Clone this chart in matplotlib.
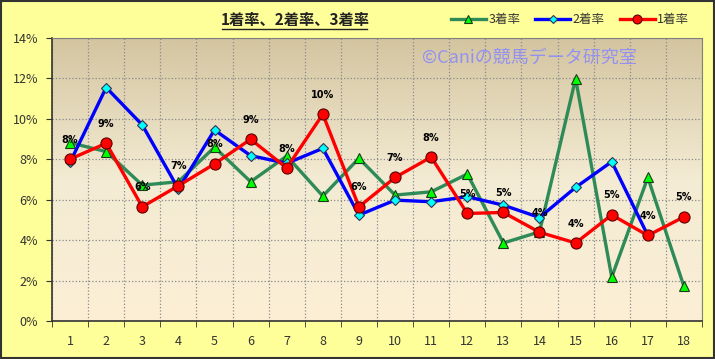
import numpy as np
import matplotlib.pyplot as plt
from matplotlib.colors import LinearSegmentedColormap
from matplotlib.ticker import FuncFormatter, MultipleLocator

plt.rcParams['font.family'] = ['Noto Sans CJK JP', 'DejaVu Sans']

cats = list(range(1, 19))
win1 = [8.01, 8.79, 5.65, 6.69, 7.77, 8.99, 7.57, 10.23, 5.65, 7.10, 8.11, 5.32, 5.37, 4.39, 3.86, 5.25, 4.23, 5.15]
win2 = [7.85, 11.55, 9.70, 6.53, 9.45, 8.18, 7.80, 8.54, 5.24, 5.98, 5.90, 6.15, 5.73, 5.12, 6.61, 7.88, 4.23]
win3 = [8.82, 8.38, 6.72, 6.89, 8.60, 6.89, 8.16, 6.18, 8.05, 6.23, 6.39, 7.27, 3.86, 4.41, 11.99, 2.17, 7.10, 1.71]

fig = plt.figure(figsize=(7.15, 3.59), dpi=100, facecolor='#FFFF99')
ax = fig.add_axes([52/715, 1-321/359, 650/715, 283/359])

# gradient background of plot area
cmap = LinearSegmentedColormap.from_list('bg', ['#FCEFD6', '#F3EBD3', '#D4C5A0'])
grad = np.linspace(0, 1, 256).reshape(-1, 1)
ax.imshow(grad, cmap=cmap, aspect='auto', extent=[0, 1, 0, 1], transform=ax.transAxes,
          origin='lower', zorder=0)

ax.set_xlim(0.5, 18.5)
ax.set_ylim(0, 14)

ax.plot(cats[:len(win3)], win3, color='#2E8B57', lw=2.4, marker='^', ms=7,
        mfc='#00FF00', mec='#1a3a1a', mew=0.8, label='3着率', zorder=3)
ax.plot(cats[:len(win2)], win2, color='#0000FF', lw=2.4, marker='D', ms=5.5,
        mfc='#00FFFF', mec='#335', mew=0.8, label='2着率', zorder=4)
ax.plot(cats, win1, color='#FF0000', lw=2.4, marker='o', ms=8,
        mfc='#FF0000', mec='#5a0000', mew=0.8, label='1着率', zorder=5)

for x, v in zip(cats, win1):
    ax.annotate(f'{round(v):d}%', (x, v), xytext=(0, 14), textcoords='offset points',
                ha='center', va='center', fontsize=7, fontweight='bold',
                family=['DejaVu Sans'], zorder=6)

ax.yaxis.set_major_locator(MultipleLocator(2))
ax.yaxis.set_major_formatter(FuncFormatter(lambda v, p: f'{v:.0f}%'))
ax.set_xticks(cats)
ax.set_xticks(np.arange(0.5, 19, 1), minor=True)
ax.tick_params(axis='x', which='major', length=0, pad=10, labelsize=9, colors='#333333')
ax.tick_params(axis='x', which='minor', length=4, color='#333333', direction='out')
ax.tick_params(axis='y', length=4, labelsize=9, colors='#333333', pad=6)
ax.grid(True, axis='y', which='major', color='#8a8a8a', ls=':', lw=0.9, zorder=1)
ax.grid(True, axis='x', which='minor', color='#8a8a8a', ls=':', lw=0.9, zorder=1)
ax.set_axisbelow(True)

for s in ['top', 'right']:
    ax.spines[s].set_color('#808080')
for s in ['left', 'bottom']:
    ax.spines[s].set_color('#333333')
    ax.spines[s].set_linewidth(1.2)

fig.text(295/715, 1-20/359, '1着率、2着率、3着率', ha='center', va='center',
         fontsize=11, fontweight='bold', color='#222222')
fig.add_artist(plt.Line2D([222/715, 367/715], [1-29/359, 1-29/359], color='#222222', lw=1))

ax.text(0.735, 0.93, '©Caniの競馬データ研究室', transform=ax.transAxes, ha='center', va='center',
        fontsize=13, color='#8888FF', alpha=0.85, zorder=2)

leg = fig.legend(loc='center', bbox_to_anchor=(570/715, 1-20/359), ncol=3, frameon=False,
                 fontsize=9, handlelength=2.8, columnspacing=1.2, handletextpad=0.2,
                 markerscale=0.8)
for t in leg.get_texts():
    t.set_color('#333333')

fig.add_artist(plt.Rectangle((0.001, 0.002), 0.997, 0.996, transform=fig.transFigure,
                             fill=False, ec='#333333', lw=1.5))

fig.savefig('out.png', dpi=100, facecolor=fig.get_facecolor())
